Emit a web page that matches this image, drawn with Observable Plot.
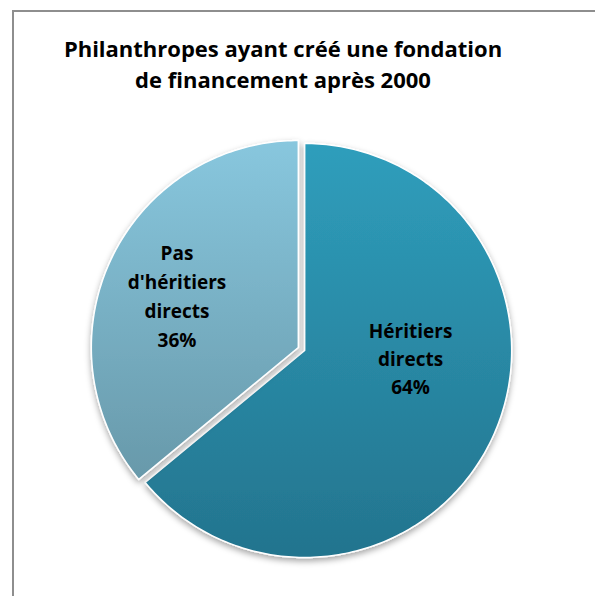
<!DOCTYPE html>
<html>
<head>
<meta charset="utf-8">
<script src="https://cdn.jsdelivr.net/npm/d3@7"></script>
<script src="https://cdn.jsdelivr.net/npm/@observablehq/plot@0.6"></script>
<style>
  html, body { margin: 0; padding: 0; background: #fff; }
  body { width: 595px; height: 596px; overflow: hidden; position: relative; font-family: "Open Sans", sans-serif; }
  #frame { position: absolute; left: 12px; top: 10px; width: 800px; height: 800px;
           border-left: 2px solid #8e8e8e; border-top: 2px solid #8e8e8e; }
  #title { position: absolute; left: 0; top: 33px; width: 566px; text-align: center;
           font-family: "Open Sans", sans-serif; font-weight: bold; font-size: 22px; line-height: 31px; color: #000; }
  #chart { position: absolute; left: 0; top: 110px; }
</style>
</head>
<body>
<div id="frame"></div>
<div id="title">Philanthropes ayant créé une fondation<br>de financement après 2000</div>
<div id="chart"></div>
<script>
// ---- data ----
const categories = ["Héritiers directs", "Pas d'héritiers directs"];
const shares = [64, 36];
const labelLines = [["Héritiers", "directs"], ["Pas", "d'héritiers", "directs"]];

// ---- geometry (angles from d3.pie, clockwise from 12 o'clock) ----
const pie = d3.pie().sort(null).value(d => d.share)(
  categories.map((c, i) => ({cat: c, share: shares[i], i}))
);
const explode = 0.017;
const polys = [];
const labels = [];
pie.forEach(p => {
  const mid = (p.startAngle + p.endAngle) / 2;
  const ox = Math.sin(mid) * explode, oy = Math.cos(mid) * explode;
  polys.push({i: p.data.i, x: ox, y: oy});
  const n = Math.max(2, Math.ceil((p.endAngle - p.startAngle) / (Math.PI / 180)));
  for (let k = 0; k <= n; k++) {
    const a = p.startAngle + (p.endAngle - p.startAngle) * k / n;
    polys.push({i: p.data.i, x: ox + Math.sin(a), y: oy + Math.cos(a)});
  }
  labels.push({
    i: p.data.i,
    x: ox + Math.sin(mid) * 0.64,
    y: oy + Math.cos(mid) * 0.64,
    text: labelLines[p.data.i].join("\n") + "\n" + p.data.share + "%"
  });
});

const cx = 301, cy = 238.5, r = 207;
const font = "'Open Sans', sans-serif";
const chart = Plot.plot({
  width: 595,
  height: 486,
  margin: 0,
  x: {domain: [-1, 1], range: [cx - r, cx + r], axis: null},
  y: {domain: [-1, 1], range: [cy + r, cy - r], axis: null},
  marks: [
    Plot.line(polys.filter(d => d.i === 0), {x: "x", y: "y", curve: "linear-closed",
      fill: "url(#gBig)", stroke: "white", strokeWidth: 1.5}),
    Plot.line(polys.filter(d => d.i === 1), {x: "x", y: "y", curve: "linear-closed",
      fill: "url(#gSmall)", stroke: "white", strokeWidth: 1.5}),
    Plot.text(labels.filter(d => d.i === 0), {x: "x", y: "y", text: "text",
      fontSize: 19, fontWeight: "bold", fontFamily: font, fill: "#000",
      lineHeight: 1.48, dx: -14, dy: -50}),
    Plot.text(labels.filter(d => d.i === 1), {x: "x", y: "y", text: "text",
      fontSize: 19, fontWeight: "bold", fontFamily: font, fill: "#000",
      lineHeight: 1.53, dx: -1.5, dy: 3})
  ]
});

const svg = d3.select(chart);
svg.style("overflow", "visible").style("background", "transparent");
const defs = svg.insert("defs", ":first-child");
const g1 = defs.append("linearGradient").attr("id", "gBig").attr("x1", 0).attr("y1", 0).attr("x2", 0).attr("y2", 1);
g1.append("stop").attr("offset", "0%").attr("stop-color", "#2f9ebc");
g1.append("stop").attr("offset", "100%").attr("stop-color", "#23748e");
const g2 = defs.append("linearGradient").attr("id", "gSmall").attr("x1", 0).attr("y1", 0).attr("x2", 0).attr("y2", 1);
g2.append("stop").attr("offset", "0%").attr("stop-color", "#88c7de");
g2.append("stop").attr("offset", "100%").attr("stop-color", "#6899aa");
const f = defs.append("filter").attr("id", "shadow").attr("x", "-20%").attr("y", "-20%").attr("width", "140%").attr("height", "140%");
f.append("feDropShadow").attr("dx", 0).attr("dy", 3).attr("stdDeviation", 3)
  .attr("flood-color", "#000").attr("flood-opacity", 0.35);
svg.selectAll("g[aria-label='line']").attr("filter", "url(#shadow)");

document.getElementById("chart").appendChild(chart);
</script>
</body>
</html>
